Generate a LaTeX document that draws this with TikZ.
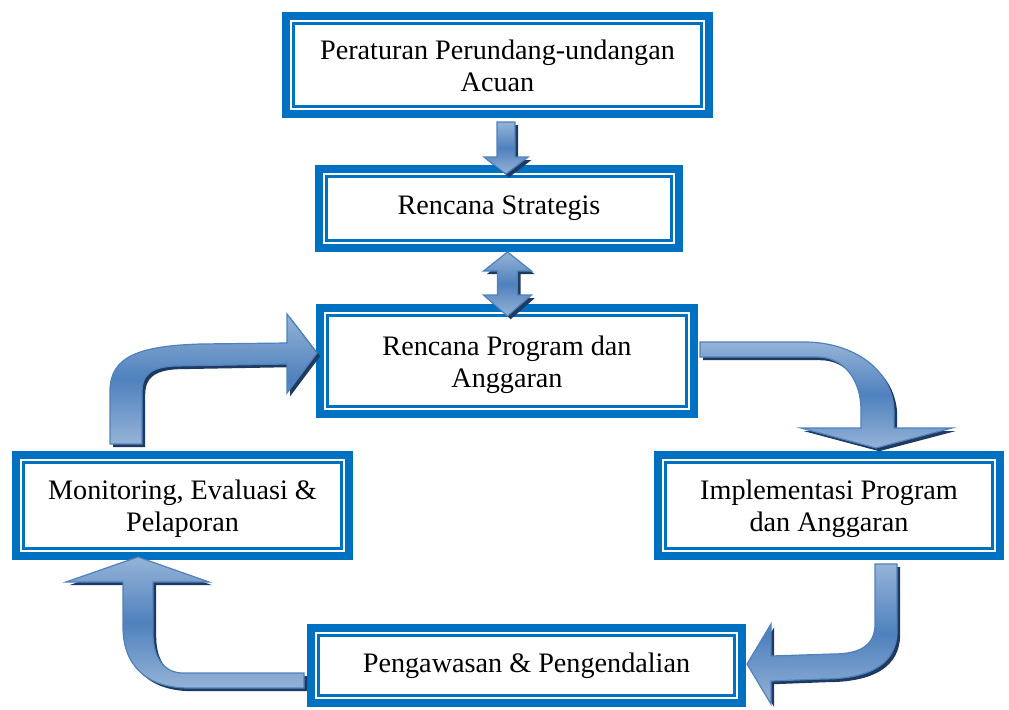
\documentclass[tikz,border=0pt]{standalone}
\usepackage{fontspec}
\setmainfont{Liberation Serif}
\usetikzlibrary{calc, shadows}
\definecolor{boxblue}{HTML}{0070C0}
\definecolor{arrlight}{HTML}{95B3D7}
\definecolor{arrdark}{HTML}{4F81BD}
\definecolor{arrline}{HTML}{4F81BD}
\definecolor{arrshadow}{HTML}{1F3A60}
\tikzset{
	box/.style={draw=boxblue, line width=4pt, fill=white, align=center, inner sep=0pt,
		font=\fontsize{14.1}{16}\selectfont,
		path picture={\draw[boxblue, line width=1.4pt]
			([shift={(3.6pt,-3.6pt)}]path picture bounding box.north west) rectangle
			([shift={(-3.6pt,3.6pt)}]path picture bounding box.south east);}},
	twoline/.style={text height=29pt, text depth=3pt},
	blockarrow/.style={draw=arrline, line width=0.6pt,
		top color=arrlight, bottom color=arrlight, middle color=arrdark,
		drop shadow={shadow xshift=1.6pt, shadow yshift=-1.6pt, fill=arrshadow, opacity=1}},
}

\begin{document}
\begin{tikzpicture}[x=0.5pt, y=-0.5pt]
	\fill[white] (0,0) rectangle (1009,709);
	\useasboundingbox (0,0) rectangle (1009,709);

	\node[box, twoline, minimum width=211.5pt, minimum height=49pt] (pua) at (497.5,65) {Peraturan Perundang-undangan\\Acuan};
	\node[box, minimum width=180pt, minimum height=39.5pt] (rs) at (499,208.5) {Rencana Strategis};
	\node[box, twoline, minimum width=187pt, minimum height=53pt] (rpa) at (507,361) {Rencana Program dan\\Anggaran};
	\node[box, twoline, minimum width=166.5pt, minimum height=50.5pt] (mon) at (182.5,505.5) {Monitoring, Evaluasi \&\\Pelaporan};
	\node[box, twoline, minimum width=171pt, minimum height=50.5pt] (imp) at (829,505.5) {Implementasi Program\\dan Anggaran};
	\node[box, minimum width=215.5pt, minimum height=37.5pt] (peng) at (526.5,665.5) {Pengawasan \& Pengendalian};

	% pua -> rs
	\path[blockarrow, shift={($(pua.south)+(8.5,0)$)}]
		(-9,4) -- (9,4) -- (9,39) -- (22,39) -- (0,56) -- (-22,39) -- (-9,39) -- cycle;
	% rs <-> rpa
	\path[blockarrow, shift={($(rs.south)+(8.5,0)$)}]
		(0,0) -- (24,19) -- (10,19) -- (10,43) -- (24,43) -- (0,64)
		-- (-24,43) -- (-10,43) -- (-10,19) -- (-24,19) -- cycle;
	% mon -> rpa
	\path[blockarrow, shift={(mon.north)}]
		(-72.5,-7) -- (-72.5,-60) .. controls (-72.5,-95) and (-42.5,-105) .. (17.5,-107)
		-- (104.5,-108) -- (104.5,-137) -- (134.5,-98) -- (104.5,-58) -- (104.5,-87)
		-- (-7.5,-85) .. controls (-32.5,-84) and (-40.5,-75) .. (-40.5,-60)
		-- (-40.5,-7) -- cycle;
	% rpa -> imp
	\path[blockarrow, shift={(rpa.east)}]
		(2,-19) -- (106,-19) .. controls (156,-19) and (196,9) .. (196,52)
		-- (196,67) -- (254,67) -- (178,87) -- (103,67) -- (163,67)
		-- (163,49) .. controls (163,19) and (146,-4) .. (119,-4)
		-- (2,-4) -- cycle;
	% imp -> peng
	\path[blockarrow, shift={(imp.south)}]
		(46,4) -- (68,4) -- (68,71) .. controls (68,104) and (41,119) .. (-6,119)
		-- (-58,121) -- (-58,144) -- (-82,104) -- (-58,64) -- (-58,96)
		-- (4,94) .. controls (33,94) and (46,84) .. (46,64)
		-- cycle;
	% peng -> mon
	\path[blockarrow, shift={(peng.west)}]
		(-3,22.5) -- (-118,22.5) .. controls (-161,22.5) and (-184,-0.5) .. (-184,-38.5)
		-- (-184,-83.5) -- (-241,-83.5) -- (-169,-108.5) -- (-98,-83.5) -- (-154,-83.5)
		-- (-154,-32.5) .. controls (-154,-5.5) and (-141,7.5) .. (-124,7.5)
		-- (-3,7.5) -- cycle;
\end{tikzpicture}
\end{document}
